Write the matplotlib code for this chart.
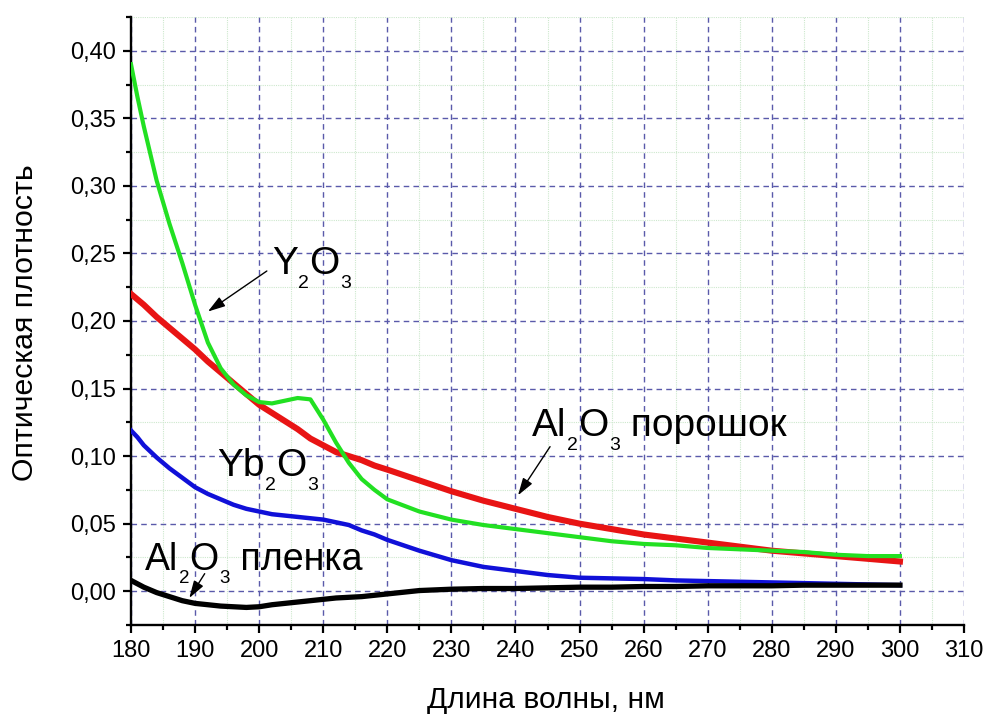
import numpy as np
import matplotlib
matplotlib.use("Agg")
import matplotlib.pyplot as plt
from matplotlib.ticker import MultipleLocator, FuncFormatter

plt.rcParams["font.family"] = ["Liberation Sans", "DejaVu Sans"]

# wavelength grid, nm
wavelength = [180, 181, 182, 184, 186, 188, 190, 192, 194, 196, 198, 200,
              202, 204, 206, 208, 210, 212, 214, 216, 218, 220, 225, 230,
              235, 240, 245, 250, 255, 260, 265, 270, 275, 280, 285, 290,
              295, 300]

# optical density of each sample
y2o3 = [0.390, 0.366, 0.344, 0.304, 0.272, 0.243, 0.212, 0.184, 0.165, 0.153,
        0.145, 0.140, 0.139, 0.141, 0.143, 0.142, 0.127, 0.110, 0.095, 0.083,
        0.075, 0.068, 0.059, 0.053, 0.049, 0.046, 0.043, 0.040, 0.037, 0.035,
        0.034, 0.032, 0.031, 0.030, 0.029, 0.027, 0.026, 0.026]
al2o3_powder = [0.220, 0.216, 0.212, 0.203, 0.195, 0.187, 0.179, 0.170, 0.162,
                0.154, 0.146, 0.138, 0.132, 0.126, 0.120, 0.113, 0.108, 0.103,
                0.100, 0.097, 0.093, 0.090, 0.082, 0.074, 0.067, 0.061, 0.055,
                0.050, 0.046, 0.042, 0.039, 0.036, 0.033, 0.030, 0.028, 0.026,
                0.024, 0.022]
yb2o3 = [0.119, 0.114, 0.108, 0.099, 0.091, 0.084, 0.077, 0.072, 0.068, 0.064,
         0.061, 0.059, 0.057, 0.056, 0.055, 0.054, 0.053, 0.051, 0.049, 0.045,
         0.042, 0.038, 0.030, 0.023, 0.018, 0.015, 0.012, 0.010, 0.0095, 0.009,
         0.008, 0.0075, 0.007, 0.0065, 0.006, 0.0055, 0.005, 0.0045]
al2o3_film = [0.008, 0.0055, 0.003, -0.001, -0.004, -0.007, -0.009, -0.010,
              -0.011, -0.0115, -0.012, -0.0115, -0.010, -0.009, -0.008, -0.007,
              -0.006, -0.005, -0.0045, -0.004, -0.003, -0.002, 0.0005, 0.0015,
              0.002, 0.002, 0.0025, 0.003, 0.003, 0.0035, 0.0035, 0.004, 0.004,
              0.004, 0.0045, 0.0045, 0.0045, 0.0045]

x_ticks = list(range(180, 311, 10))
y_ticks = [0.00, 0.05, 0.10, 0.15, 0.20, 0.25, 0.30, 0.35, 0.40]

fig = plt.figure(figsize=(9.86, 7.2), dpi=100)
ax = fig.add_axes([131 / 986, 95 / 720, 833 / 986, 608 / 720])

ax.plot(wavelength, al2o3_powder, color="#e81414", lw=4.4, zorder=3,
        solid_joinstyle="round")
ax.plot(wavelength, y2o3, color="#22e022", lw=3.0, zorder=4, solid_joinstyle="round")
ax.plot(wavelength, yb2o3, color="#1010d8", lw=3.2, zorder=3, solid_joinstyle="round")
ax.plot(wavelength, al2o3_film, color="black", lw=3.8, zorder=3, solid_joinstyle="round")

ax.set_xlim(180, 310)
ax.set_ylim(-0.025, 0.425)
ax.set_xticks(x_ticks)
ax.set_yticks(y_ticks)
ax.xaxis.set_minor_locator(MultipleLocator(5))
ax.yaxis.set_minor_locator(MultipleLocator(0.025))
ax.yaxis.set_major_formatter(FuncFormatter(lambda v, p: f"{v:.2f}".replace(".", ",")))

ax.grid(which="minor", color="#cde8cd", lw=0.8, ls=(0, (1, 1)), zorder=0)
ax.grid(which="major", color="#5a5aaa", lw=1.0, ls=(0, (4, 3)), zorder=1)
ax.set_axisbelow(True)

for side in ("top", "right"):
    ax.spines[side].set_visible(False)
for side in ("left", "bottom"):
    ax.spines[side].set_linewidth(1.7)
ax.tick_params(which="major", direction="out", length=6, width=1.6, labelsize=17, pad=5)
ax.tick_params(which="minor", direction="out", length=3.5, width=1.6)

fig.text(25 / 986, 1 - 323 / 720, "Оптическая плотность", rotation=90,
         ha="center", va="center", fontsize=21.8)
fig.text(546 / 986, 1 - 700 / 720, "Длина волны, нм", ha="center", va="center",
         fontsize=21.6)


def formula(x, y, pieces, size=28):
    # pieces: (text, is_subscript); main pieces share one baseline
    first = ax.text(x, y, pieces[0][0], fontsize=size, va="baseline", zorder=6)
    prev = first
    for txt, sub in pieces[1:]:
        if sub:
            prev = ax.annotate(txt, xy=(1, 0), xycoords=prev, xytext=(0.3, -0.255 * size),
                               textcoords="offset points", fontsize=size * 0.5,
                               va="bottom", zorder=6)
        else:
            prev = ax.annotate(txt, xy=(1, 0), xycoords=(prev, first), xytext=(0.3, 0),
                               textcoords="offset points", fontsize=size,
                               va="bottom", zorder=6)


def arrow(tip, tail):
    ax.annotate("", xy=tip, xytext=tail,
                arrowprops=dict(arrowstyle="-|>,head_length=0.7,head_width=0.22",
                                mutation_scale=15, color="black", lw=1.0,
                                shrinkA=0, shrinkB=0), zorder=6)


formula(202.0, 0.235, [("Y", False), ("2", True), ("O", False), ("3", True)])
formula(242.6, 0.115, [("Al", False), ("2", True), ("O", False), ("3", True),
                       (" порошок", False)])
formula(193.4, 0.085, [("Yb", False), ("2", True), ("O", False), ("3", True)])
formula(182.2, 0.016, [("Al", False), ("2", True), ("O", False), ("3", True),
                       (" пленка", False)], size=27)

arrow((192.0, 0.207), (201.2, 0.237))
arrow((240.4, 0.071), (245.4, 0.107))
arrow((189.1, -0.005), (191.5, 0.013))

fig.savefig("out.png", dpi=100)
